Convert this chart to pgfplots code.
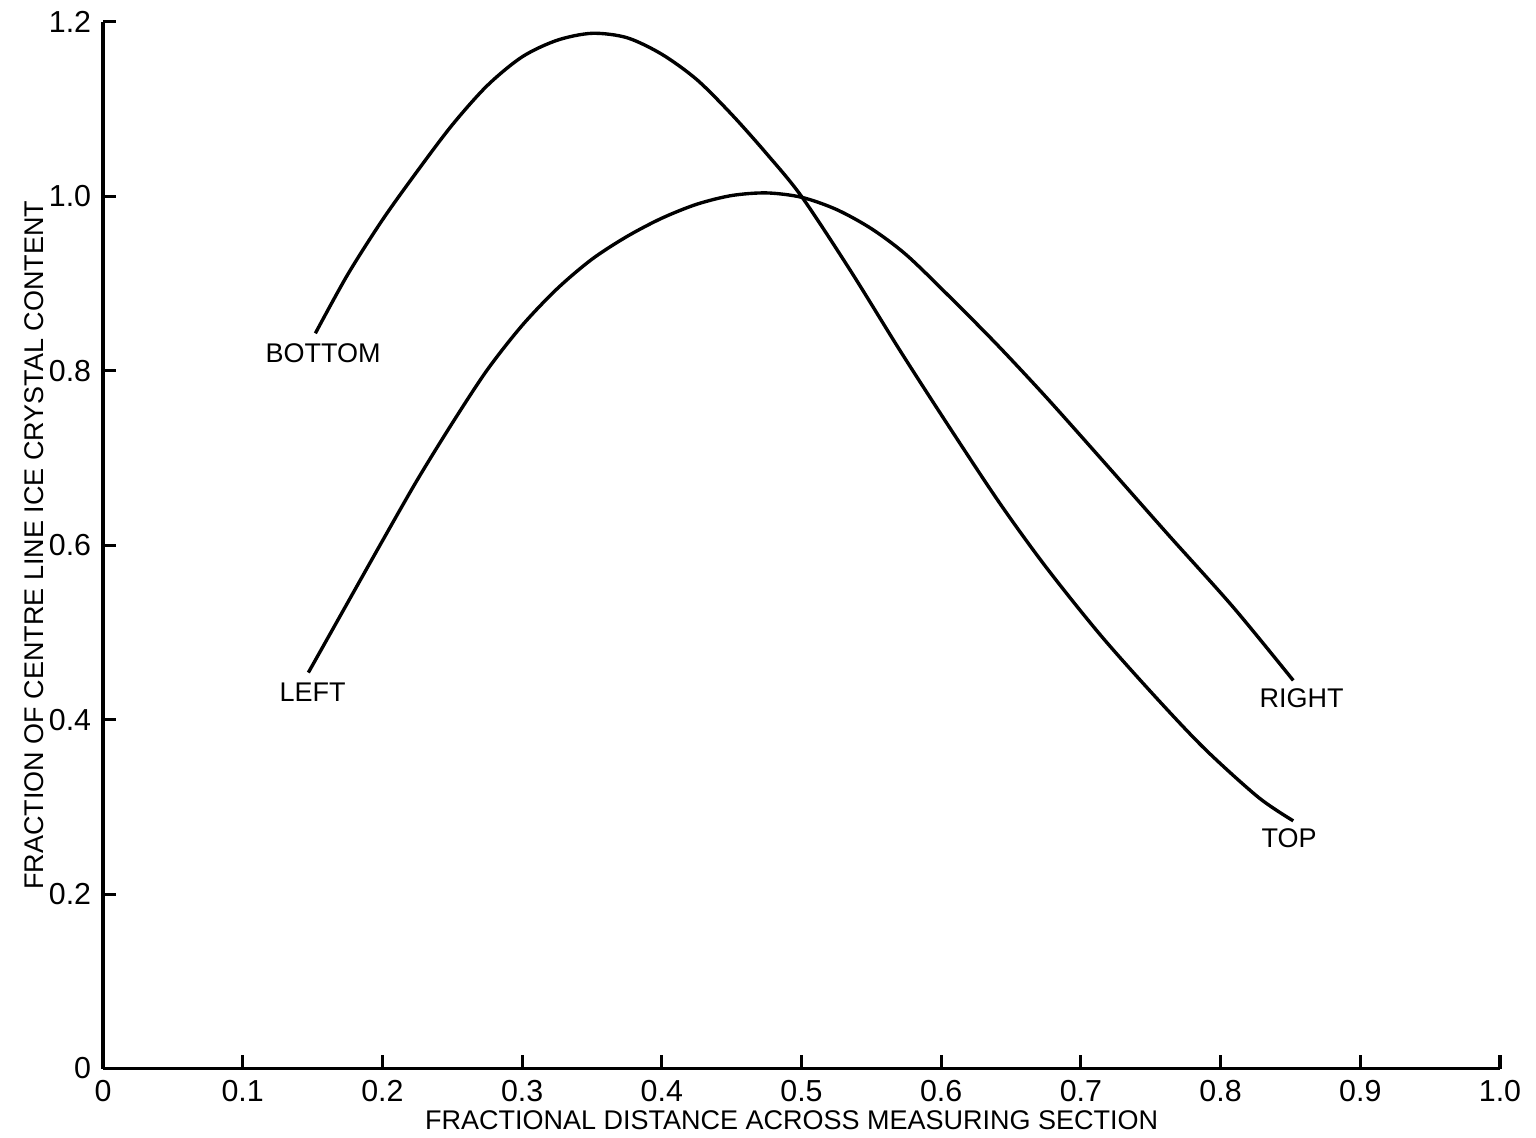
\documentclass[border=0pt]{standalone}
\usepackage{fontspec}
\setmainfont{Liberation Sans}
\usepackage{pgfplots}
\pgfplotsset{compat=1.18}

\begin{document}
\begin{tikzpicture}
\begin{axis}[
  scale only axis,
  width=14.55cm,
  height=10.90cm,
  xmin=0, xmax=1,
  ymin=0, ymax=1.2,
  axis lines=left,
  axis line style={-, line width=1.1pt},
  xtick={0,0.1,0.2,0.3,0.4,0.5,0.6,0.7,0.8,0.9,1.0},
  xticklabels={0,0.1,0.2,0.3,0.4,0.5,0.6,0.7,0.8,0.9,1.0},
  ytick={0,0.2,0.4,0.6,0.8,1.0,1.2},
  yticklabels={0,0.2,0.4,0.6,0.8,1.0,1.2},
  tick align=inside,
  major tick length=0.14cm,
  tick style={line width=0.9pt, black},
  tick label style={font=\fontsize{9}{10}\selectfont},
  xlabel={FRACTIONAL DISTANCE ACROSS MEASURING SECTION},
  ylabel={FRACTION OF CENTRE LINE ICE CRYSTAL CONTENT},
  label style={font=\fontsize{8}{10}\selectfont},
  xlabel style={at={(axis description cs:0.493,-0.049)}, anchor=center},
  ylabel style={at={(axis description cs:-0.049,0.5)}, anchor=center},
  clip=false,
]
% bottom / top traverse
\addplot[black, line width=1pt, smooth, tension=0.5] coordinates {
  (0.152,0.843) (0.175,0.910) (0.200,0.973) (0.225,1.029) (0.250,1.082)
  (0.275,1.127) (0.300,1.160) (0.325,1.179) (0.350,1.187) (0.375,1.182)
  (0.400,1.163) (0.425,1.134) (0.450,1.094) (0.475,1.049) (0.500,1.000)
  (0.535,0.915) (0.571,0.822) (0.606,0.735) (0.642,0.648) (0.675,0.575)
  (0.714,0.497) (0.754,0.425) (0.789,0.366) (0.827,0.311) (0.852,0.284)
};
% left / right traverse
\addplot[black, line width=1pt, smooth, tension=0.5] coordinates {
  (0.147,0.454) (0.174,0.531) (0.200,0.605) (0.225,0.675) (0.250,0.740)
  (0.275,0.801) (0.300,0.852) (0.325,0.894) (0.350,0.928) (0.375,0.954)
  (0.400,0.975) (0.425,0.991) (0.450,1.001) (0.475,1.004) (0.500,0.999)
  (0.525,0.985) (0.550,0.963) (0.575,0.933) (0.606,0.885) (0.640,0.830)
  (0.675,0.770) (0.714,0.700) (0.762,0.613) (0.809,0.529) (0.852,0.445)
};
\node[font=\fontsize{8}{10}\selectfont] at (axis cs:0.1575,0.820) {BOTTOM};
\node[font=\fontsize{8}{10}\selectfont] at (axis cs:0.150,0.431) {LEFT};
\node[font=\fontsize{8}{10}\selectfont] at (axis cs:0.858,0.425) {RIGHT};
\node[font=\fontsize{8}{10}\selectfont] at (axis cs:0.849,0.264) {TOP};
\coordinate (sw) at (rel axis cs:0,0);
\coordinate (ne) at (rel axis cs:1,1);
\end{axis}
\pgfresetboundingbox
\path[use as bounding box] ([shift={(-1.073cm,-0.719cm)}]sw) rectangle ([shift={(0.375cm,0.229cm)}]ne);
\end{tikzpicture}
\end{document}
